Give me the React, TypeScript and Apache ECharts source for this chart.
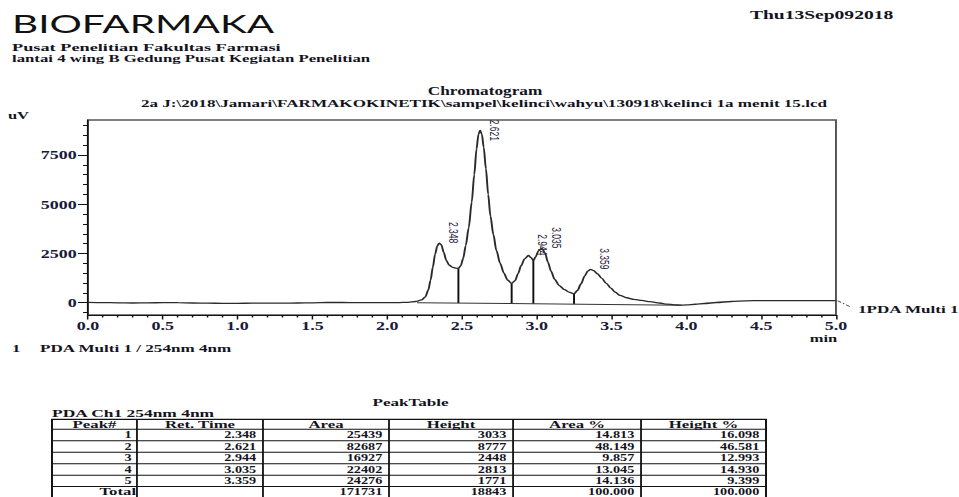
import React, { useEffect, useRef } from "react";
import * as echarts from "echarts";

// horizontal stretch of the whole printout
const S = 959 / 640;

// chromatogram trace: [time (min), signal (uV)]
const signal: [number, number][] = [
  [0.0, 15], [0.1, 5], [0.2, -5], [0.3, -15], [0.4, -10], [0.5, 5], [0.6, 0], [0.7, -15],
  [0.8, -25], [0.9, -30], [1.0, -30], [1.1, -25], [1.2, -25], [1.3, -20], [1.4, -15], [1.5, -5],
  [1.6, 10], [1.7, 10], [1.8, 5], [1.9, 5], [2.0, 0], [2.08, 5], [2.14, 20], [2.19, 60],
  [2.23, 140], [2.255, 300], [2.275, 650], [2.29, 1150], [2.305, 1800], [2.32, 2450], [2.335, 2880],
  [2.348, 3023], [2.362, 2930], [2.378, 2550], [2.395, 2150], [2.415, 1900], [2.44, 1790],
  [2.462, 1750], [2.476, 1740], [2.492, 1880], [2.508, 2250], [2.525, 2900], [2.545, 3800],
  [2.565, 5100], [2.582, 6500], [2.597, 7800], [2.61, 8550], [2.621, 8747], [2.633, 8550],
  [2.645, 7900], [2.66, 6800], [2.675, 5500], [2.69, 4400], [2.71, 3450], [2.73, 2650],
  [2.755, 2000], [2.78, 1500], [2.805, 1150], [2.832, 980], [2.855, 1120], [2.875, 1480],
  [2.895, 1880], [2.918, 2220], [2.944, 2395], [2.962, 2290], [2.977, 2130], [2.992, 2330],
  [3.012, 2640], [3.035, 2754], [3.055, 2520], [3.075, 2050], [3.095, 1600], [3.12, 1180],
  [3.15, 870], [3.185, 660], [3.215, 540], [3.249, 450], [3.272, 620], [3.295, 950],
  [3.32, 1350], [3.34, 1600], [3.359, 1689], [3.38, 1630], [3.405, 1470], [3.435, 1230],
  [3.465, 980], [3.495, 740], [3.525, 530], [3.556, 370], [3.6, 250], [3.65, 170], [3.7, 115],
  [3.757, 50], [3.82, -15], [3.87, -70], [3.92, -110], [3.96, -125], [4.0, -115], [4.06, -80],
  [4.12, -40], [4.2, 10], [4.3, 60], [4.4, 95], [4.5, 105], [4.6, 100], [4.7, 100], [4.8, 105],
  [4.9, 105], [5.0, 100],
];

// integration baseline and peak boundaries
const baselineSeg: [number, number][] = [[2.2, 0], [3.97, -125]];
const dropTimes = [2.476, 2.832, 2.977, 3.249];
const dropTops = [1740, 980, 2130, 450];

// axis ticks
const xTickLabels = ["0.0", "0.5", "1.0", "1.5", "2.0", "2.5", "3.0", "3.5", "4.0", "4.5", "5.0"];
const yMajorTicks = [0, 2500, 5000, 7500];
const yMinorTicks = [-500, 0, 500, 1000, 1500, 2000, 2500, 3000, 3500, 4000, 4500, 5000, 5500,
  6000, 6500, 7000, 7500, 8000, 8500, 9000];

// peak table
const peakNums = ["1", "2", "3", "4", "5"];
const retTimes = [2.348, 2.621, 2.944, 3.035, 3.359];
const areas = [25439, 82687, 16927, 22402, 24276];
const heights = [3033, 8777, 2448, 2813, 1771];
const areaPct = [14.813, 48.149, 9.857, 13.045, 14.136];
const heightPct = [16.098, 46.581, 12.993, 14.93, 9.399];
const totalArea = 171731;
const totalHeight = 18843;
const totalPct = [100, 100];
const tableHeaders = ["Peak#", "Ret. Time", "Area", "Height", "Area %", "Height %"];

const SERIF = "'Liberation Serif', 'Times New Roman', serif";
const INK = "#14141e";

function baselineAt(t: number) {
  const [[t0, v0], [t1, v1]] = baselineSeg;
  return v0 + ((v1 - v0) * (t - t0)) / (t1 - t0);
}

function txt(text: string, x: number, y: number, o: any = {}) {
  const align = o.align || "left";
  const va = o.va || "middle";
  const style: any = {
    text,
    fontSize: o.size || 11,
    fontFamily: o.family || SERIF,
    fontWeight: o.weight || "bold",
    fill: o.color || INK,
    align,
    verticalAlign: va,
    textAlign: align,
    textVerticalAlign: va,
  };
  if (o.lh) style.lineHeight = o.lh;
  return { type: "text", x, y, silent: true, scaleX: o.sx || 1, style };
}

export default function App() {
  const ref = useRef<HTMLDivElement>(null);
  useEffect(() => {
    if (!ref.current) return;
    const chart = echarts.init(ref.current, null, { renderer: "svg" });

    const gridTop = 120;
    const graphics: any[] = [];
    graphics.push(
      txt("BIOFARMAKA", 8, 23, { size: 25, family: "Lato, 'DejaVu Sans', sans-serif", weight: "normal", sx: 1.08, color: "#111" })
    );
    graphics.push(txt("Thu13Sep092018", 500.5, 15, { size: 12.3, sx: 1.06 }));
    graphics.push(txt("Pusat Penelitian Fakultas Farmasi", 8, 46.5, { size: 11.2, sx: 1.09 }));
    graphics.push(txt("lantai 4 wing B Gedung Pusat Kegiatan Penelitian", 8, 58, { size: 11.2 }));
    graphics.push(txt("Chromatogram", 323.7, 91, { size: 11.5, align: "center" }));
    graphics.push(
      txt("2a J:\\2018\\Jamari\\FARMAKOKINETIK\\sampel\\kelinci\\wahyu\\130918\\kelinci 1a menit 15.lcd", 323, 103, {
        size: 11.4,
        align: "center",
      })
    );
    graphics.push(txt("uV", 5.3, 115, { size: 11 }));
    graphics.push(txt("min", 549.6, 338, { size: 11, align: "center" }));
    graphics.push(txt("1", 8, 348, { size: 11.2 }));
    graphics.push(txt("PDA Multi 1 / 254nm 4nm", 26.7, 348, { size: 11.4 }));
    graphics.push(txt("PeakTable", 274, 402.5, { size: 11.4, align: "center" }));
    graphics.push(txt("PDA Ch1 254nm 4nm", 34.7, 413, { size: 11.4, sx: 1.02 }));

    // table
    const cols = [34.7, 91.4, 175.5, 259.6, 342.4, 427.8, 511.2];
    const rowsY = [419.3, 429.3, 440.8, 452.3, 463.8, 475.3, 486.6, 498.3];
    graphics.push({
      type: "rect",
      silent: true,
      shape: { x: cols[0], y: rowsY[0], width: cols[6] - cols[0], height: rowsY[7] - rowsY[0] },
      style: { fill: "none", stroke: "#111", lineWidth: 1.3 },
    });
    for (let i = 1; i < cols.length - 1; i++) {
      graphics.push({
        type: "line",
        silent: true,
        shape: { x1: cols[i], y1: rowsY[0], x2: cols[i], y2: rowsY[7] },
        style: { stroke: "#111", lineWidth: 1.2 },
      });
    }
    for (let j = 1; j < rowsY.length - 1; j++) {
      graphics.push({
        type: "line",
        silent: true,
        shape: { x1: cols[0], y1: rowsY[j], x2: cols[6], y2: rowsY[j] },
        style: { stroke: "#111", lineWidth: 1 },
      });
    }
    const TS = 10;
    tableHeaders.forEach((h, i) => {
      graphics.push(
        txt(h, (cols[i] + cols[i + 1]) / 2, (rowsY[0] + rowsY[1]) / 2, { size: TS, align: "center", sx: 1.12, lh: 9 })
      );
    });
    const rowVals = peakNums.map((p, r) => [
      p,
      retTimes[r].toFixed(3),
      String(areas[r]),
      String(heights[r]),
      areaPct[r].toFixed(3),
      heightPct[r].toFixed(3),
    ]);
    rowVals.push(["Total", "", String(totalArea), String(totalHeight), totalPct[0].toFixed(3), totalPct[1].toFixed(3)]);
    rowVals.forEach((row, r) => {
      const cy = (rowsY[r + 1] + rowsY[r + 2]) / 2 - (r === 5 ? 0.6 : 0);
      row.forEach((v, c) => {
        if (!v) return;
        const isTotal = c === 0 && r === 5;
        const pad = c === 0 ? (isTotal ? 0.6 : 3.5) : 4.5;
        graphics.push(txt(v, cols[c + 1] - pad, cy, { size: TS, align: "right", sx: isTotal ? 1.12 : 0.95, lh: 9 }));
      });
    });

    const option: any = {
      animation: false,
      backgroundColor: "#ffffff",
      grid: {
        left: 58.73,
        right: 82.1,
        top: gridTop,
        bottom: 182,
        show: true,
        borderColor: "#555",
        borderWidth: 1.3,
        backgroundColor: "transparent",
      },
      xAxis: {
        type: "value",
        min: 0,
        max: 5,
        interval: 0.5,
        axisLine: { show: true, onZero: false, lineStyle: { color: "#111", width: 1 } },
        axisTick: { show: true, length: 4.5, lineStyle: { color: "#111" } },
        minorTick: { show: true, splitNumber: 5, length: 2.5, lineStyle: { color: "#111" } },
        axisLabel: {
          formatter: (v: number) => xTickLabels[Math.round(v / 0.5)],
          margin: 5,
          fontFamily: SERIF,
          fontWeight: "bold",
          fontSize: 12,
          color: "#1a1a3a",
        },
        splitLine: { show: false },
        minorSplitLine: { show: false },
      },
      yAxis: [
        {
          type: "value",
          min: -625,
          max: 9275,
          position: "left",
          axisLine: { show: true, onZero: false, lineStyle: { color: "#111", width: 1 } },
          axisTick: { show: true, customValues: yMinorTicks, length: 3.3, lineStyle: { color: "#111" } },
          axisLabel: {
            customValues: yMajorTicks,
            formatter: (v: number) => String(v),
            margin: 7.5,
            fontFamily: SERIF,
            fontWeight: "bold",
            fontSize: 12,
            color: "#1a1a3a",
          },
          splitLine: { show: false },
        },
        {
          type: "value",
          min: -625,
          max: 9275,
          position: "left",
          offset: 0,
          axisLine: { show: false },
          axisTick: { show: true, customValues: yMajorTicks, length: 6.7, lineStyle: { color: "#111" } },
          axisLabel: { show: false },
          splitLine: { show: false },
        },
      ],
      graphic: graphics,
      series: [
        {
          type: "line",
          data: signal,
          showSymbol: false,
          symbol: "none",
          smooth: 0.3,
          smoothMonotone: "x",
          lineStyle: { color: "#2b2b2b", width: 1.3 },
          silent: true,
        },
        {
          type: "line",
          data: baselineSeg,
          showSymbol: false,
          symbol: "none",
          lineStyle: { color: "#333", width: 1 },
          silent: true,
        },
        {
          type: "custom",
          silent: true,
          data: dropTimes.map((t, i) => [t, dropTops[i]]),
          renderItem: (_p: any, api: any) => {
            const t = api.value(0);
            const a = api.coord([t, api.value(1)]);
            const b = api.coord([t, baselineAt(t)]);
            return {
              type: "line",
              shape: { x1: a[0], y1: a[1], x2: b[0], y2: b[1] },
              style: { stroke: "#111", lineWidth: 1.3 },
            };
          },
        },
        {
          type: "custom",
          silent: true,
          clip: false,
          data: retTimes.map((rt, i) => [rt, heights[i] + baselineAt(rt)]),
          renderItem: (_p: any, api: any) => {
            const rt = api.value(0);
            const p = api.coord([rt, api.value(1)]);
            return {
              type: "text",
              x: p[0] + 5,
              y: Math.max(p[1], gridTop + 21),
              rotation: -Math.PI / 2,
              style: {
                text: rt.toFixed(3),
                fontSize: 8.5,
                fontFamily: "'Liberation Sans Narrow', 'Liberation Sans', sans-serif",
                fill: "#1c2040",
                align: "right",
                verticalAlign: "bottom",
                textAlign: "right",
                textVerticalAlign: "bottom",
              },
            };
          },
        },
        {
          type: "custom",
          silent: true,
          clip: false,
          data: [signal[signal.length - 1]],
          renderItem: (_p: any, api: any) => {
            const p = api.coord([api.value(0), api.value(1)]);
            return {
              type: "group",
              children: [
                {
                  type: "line",
                  shape: { x1: p[0] + 1, y1: p[1], x2: p[0] + 10, y2: p[1] + 6.3 },
                  style: { stroke: "#333", lineWidth: 0.8, lineDash: [3, 1.5, 1, 1.5] },
                },
                {
                  type: "text",
                  x: p[0] + 14.7,
                  y: p[1] + 8.3,
                  style: {
                    text: "1PDA Multi 1",
                    fontSize: 11.4,
                    fontWeight: "bold",
                    fontFamily: SERIF,
                    fill: INK,
                    align: "left",
                    verticalAlign: "middle",
                    textAlign: "left",
                    textVerticalAlign: "middle",
                  },
                },
              ],
            };
          },
        },
      ],
    };
    chart.setOption(option);
    return () => chart.dispose();
  }, []);

  return (
    <div
      ref={ref}
      style={{
        position: "fixed",
        left: 0,
        top: 0,
        width: 640,
        height: 497,
        background: "#fff",
        transform: `scaleX(${S})`,
        transformOrigin: "0 0",
      }}
    />
  );
}
